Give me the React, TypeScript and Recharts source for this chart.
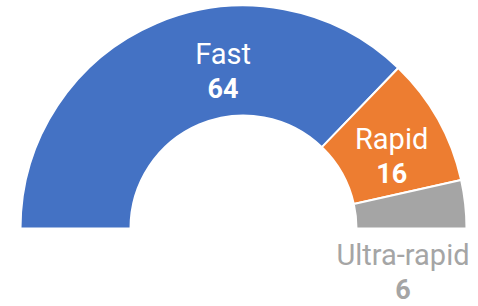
import { PieChart, Pie, Cell } from "recharts";

const categories = ["Fast", "Rapid", "Ultra-rapid"];
const counts = [64, 16, 6];
const colors = ["#4472C4", "#ED7D31", "#A5A5A5"];

const data = categories.map((name, i) => ({ name, value: counts[i] }));

// label placement relative to the ring center: [radius, angle in degrees]
const labelPolar: [number, number][] = [
  [149, 97.9],
  [160.7, 22.8],
  [168.4, -18.7],
];
const labelColors = ["#FFFFFF", "#FFFFFF", "#A5A5A5"];

const RAD = Math.PI / 180;

const renderLabel = (props: any) => {
  const { cx, cy, index, name, value } = props;
  const [r, a] = labelPolar[index];
  const x = cx + r * Math.cos(a * RAD);
  const y = cy - r * Math.sin(a * RAD);
  const fill = labelColors[index];
  return (
    <text x={x} y={y} textAnchor="middle" fill={fill} fontFamily="Roboto, sans-serif">
      <tspan x={x} y={y - 17} fontSize={29}>
        {name}
      </tspan>
      <tspan x={x} y={y + 17} fontSize={27} fontWeight="bold">
        {value}
      </tspan>
    </text>
  );
};

const App = () => {
  return (
    <div style={{ position: "absolute", left: 0, top: 0, width: 478, height: 306, background: "#fff" }}>
      <PieChart width={478} height={306} margin={{ top: 0, right: 0, bottom: 0, left: 0 }}>
        <Pie
          data={data}
          dataKey="value"
          nameKey="name"
          cx={243.5}
          cy={228.5}
          startAngle={180}
          endAngle={0}
          innerRadius={113}
          outerRadius={223}
          stroke="#FFFFFF"
          strokeWidth={2}
          label={renderLabel}
          labelLine={false}
          isAnimationActive={false}
        >
          {data.map((d, i) => (
            <Cell key={d.name} fill={colors[i]} />
          ))}
        </Pie>
      </PieChart>
    </div>
  );
};

export default App;
